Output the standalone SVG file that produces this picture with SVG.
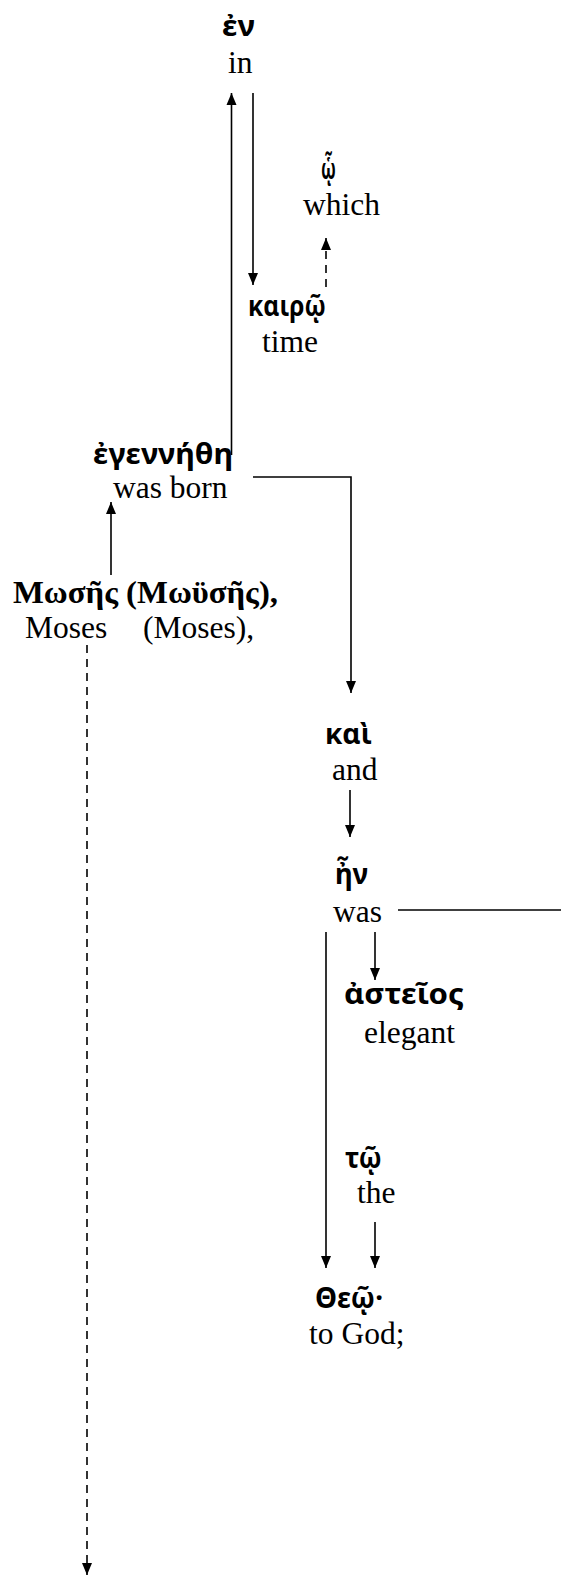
<svg xmlns="http://www.w3.org/2000/svg" width="561" height="1576" viewBox="0 0 561 1576">
<style>
.gr{font-family:"Noto Sans","DejaVu Sans",sans-serif;font-weight:bold;font-size:29px;fill:#000}
.grs{font-family:"Liberation Serif","Noto Sans",serif;font-weight:bold;font-size:31px;fill:#000}
.en{font-family:"Liberation Serif","Times New Roman",serif;font-size:31.5px;fill:#000}
.ln{fill:none;stroke:#000;stroke-width:1.6}
.ds{stroke-dasharray:8 6}
</style>
<defs>
<marker id="au" markerUnits="userSpaceOnUse" markerWidth="12" markerHeight="14" viewBox="0 0 12 14" refX="6" refY="1" orient="0">
<path d="M1,13 L6,1 L11,13 Z" fill="#000"/>
</marker>
<marker id="ad" markerUnits="userSpaceOnUse" markerWidth="12" markerHeight="14" viewBox="0 0 12 14" refX="6" refY="13" orient="0">
<path d="M1,1 L6,13 L11,1 Z" fill="#000"/>
</marker>
</defs>
<g id="connectors">
<line class="ln" x1="231.5" y1="455" x2="231.5" y2="93" marker-end="url(#au)"/>
<line class="ln" x1="253" y1="93" x2="253" y2="285" marker-end="url(#ad)"/>
<line class="ln ds" x1="326" y1="287" x2="326" y2="238" marker-end="url(#au)"/>
<line class="ln" x1="111" y1="575" x2="111" y2="502" marker-end="url(#au)"/>
<path class="ln" d="M253,477 H351 V693" marker-end="url(#ad)"/>
<line class="ln" x1="350" y1="790" x2="350" y2="837" marker-end="url(#ad)"/>
<line class="ln" x1="398" y1="910" x2="561" y2="910"/>
<line class="ln" x1="326" y1="932" x2="326" y2="1268" marker-end="url(#ad)"/>
<line class="ln" x1="375" y1="932" x2="375" y2="980" marker-end="url(#ad)"/>
<line class="ln" x1="375" y1="1222" x2="375" y2="1268" marker-end="url(#ad)"/>
<line class="ln ds" x1="87" y1="645" x2="87" y2="1575" marker-end="url(#ad)"/>
</g>
<g id="n-en"><text class="gr" x="222" y="36" textLength="33" lengthAdjust="spacingAndGlyphs">ἐν</text><text class="en" x="228" y="73">in</text></g>
<g id="n-ho"><text class="gr" x="321" y="179" textLength="15" lengthAdjust="spacingAndGlyphs">ᾧ</text><text class="en" x="303" y="215">which</text></g>
<g id="n-kairo"><text class="gr" x="248" y="316" textLength="78" lengthAdjust="spacingAndGlyphs">καιρῷ</text><text class="en" x="262" y="352">time</text></g>
<g id="n-egennethe"><text class="gr" x="93" y="464" textLength="140" lengthAdjust="spacingAndGlyphs">ἐγεννήθη</text><text class="en" x="113" y="498">was born</text></g>
<g id="n-moses"><text class="grs" x="13" y="603" textLength="265" lengthAdjust="spacingAndGlyphs">Μωσῆς (Μωϋσῆς),</text><text class="en" x="25" y="638">Moses</text><text class="en" x="143" y="638">(Moses),</text></g>
<g id="n-kai"><text class="gr" x="325" y="744" textLength="47" lengthAdjust="spacingAndGlyphs">καὶ</text><text class="en" x="332" y="780">and</text></g>
<g id="n-en2"><text class="gr" x="335" y="884" textLength="33" lengthAdjust="spacingAndGlyphs">ἦν</text><text class="en" x="333" y="922">was</text></g>
<g id="n-asteios"><text class="gr" x="344" y="1004" textLength="120" lengthAdjust="spacingAndGlyphs">ἀστεῖος</text><text class="en" x="364" y="1043">elegant</text></g>
<g id="n-to"><text class="gr" x="345" y="1168" textLength="37" lengthAdjust="spacingAndGlyphs">τῷ</text><text class="en" x="357" y="1203">the</text></g>
<g id="n-theo"><text class="gr" x="315" y="1308" textLength="68" lengthAdjust="spacingAndGlyphs">Θεῷ·</text><text class="en" x="309" y="1344">to God;</text></g>
</svg>
